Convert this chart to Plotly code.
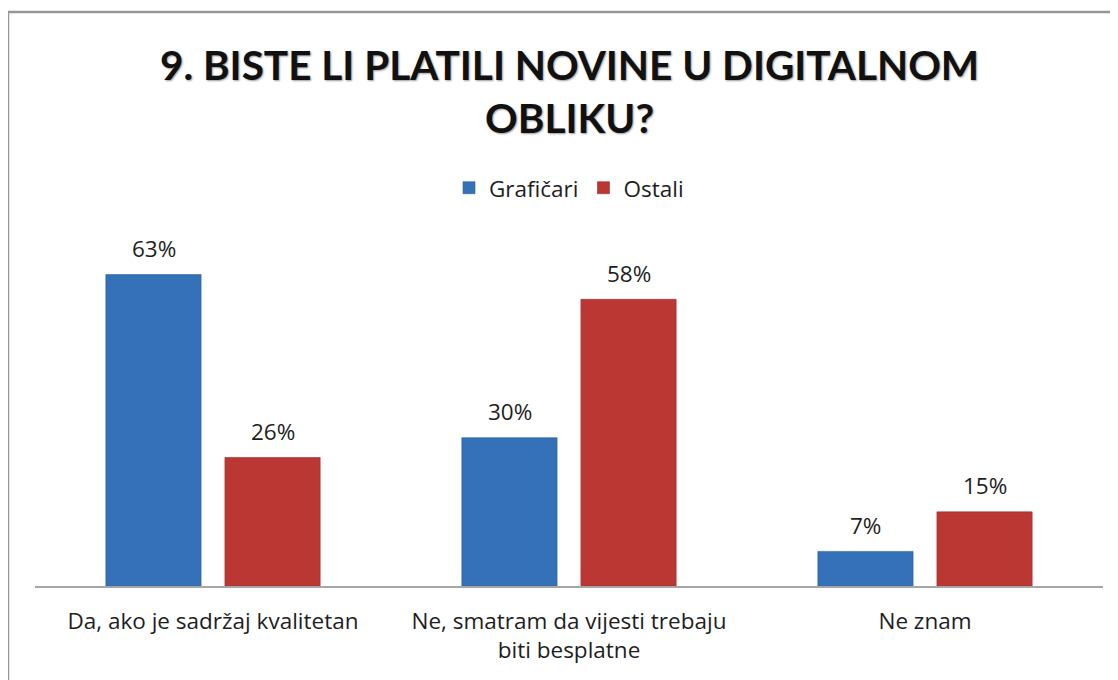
import plotly.graph_objects as go

categories = ["Da, ako je sadržaj kvalitetan",
              "Ne, smatram da vijesti trebaju<br>biti besplatne",
              "Ne znam"]
graficari = [63, 30, 7]
ostali = [26, 58, 15]
series_names = ["Grafičari", "Ostali"]
title_text = "9. BISTE LI PLATILI NOVINE U DIGITALNOM<br>OBLIKU?"

FONT = "Open Sans"
TFONT = "Lato"
BLUE = "#3571b8"
RED = "#bb3734"

fig = go.Figure()
fig.add_trace(go.Bar(name=series_names[0], x=categories, y=graficari,
                     marker=dict(color=BLUE, line=dict(color="#2d5f9a", width=0.6))))
fig.add_trace(go.Bar(name=series_names[1], x=categories, y=ostali,
                     marker=dict(color=RED, line=dict(color="#9e2d2b", width=0.6))))

ann = []
for vals, shift in ((graficari, -59.5), (ostali, 59.5)):
    for c, v in zip(categories, vals):
        ann.append(dict(x=c, y=v, xref="x", yref="y", text=f"{v}%", showarrow=False,
                        xshift=shift, yshift=26, yanchor="middle",
                        font=dict(family=FONT, size=22.5, color="#1e1e1e")))
ann.append(dict(x=0.5, y=1.43, xref="paper", yref="paper", text=title_text,
                showarrow=False, xanchor="center", yanchor="middle",
                font=dict(family=TFONT, size=40.5, color="#111111", weight="bold",
                          shadow="1px 1px 2px #9a9a9a")))

shapes = [
    dict(type="line", xref="paper", yref="paper", x0=-0.0253, x1=1.05, y0=1.659, y1=1.659,
         line=dict(color="#969696", width=2.5)),
    dict(type="line", xref="paper", yref="paper", x0=-0.0253, x1=-0.0253, y0=1.659, y1=-0.35,
         line=dict(color="#969696", width=2.5)),
]

fig.update_layout(
    width=1118, height=680,
    margin=dict(l=27, r=23, t=232, b=102),
    paper_bgcolor="white", plot_bgcolor="white",
    barmode="group", bargap=0.331, bargroupgap=0.2,
    showlegend=True,
    legend=dict(orientation="h", x=0.5, xanchor="center", y=1.150, yanchor="middle",
                xref="paper", yref="paper",
                font=dict(family=FONT, size=22.5, color="#1e1e1e"),
                itemwidth=30, traceorder="normal"),
    annotations=ann,
    shapes=shapes,
    xaxis=dict(showline=True, linecolor="#a6a6a6", linewidth=1.5, ticks="",
               tickfont=dict(family=FONT, size=22.5, color="#1e1e1e"),
               ticklabelstandoff=14, showgrid=False, zeroline=False, fixedrange=True),
    yaxis=dict(range=[0, 70], visible=False, showgrid=False, zeroline=False, fixedrange=True),
)

fig.write_html("out.html")
